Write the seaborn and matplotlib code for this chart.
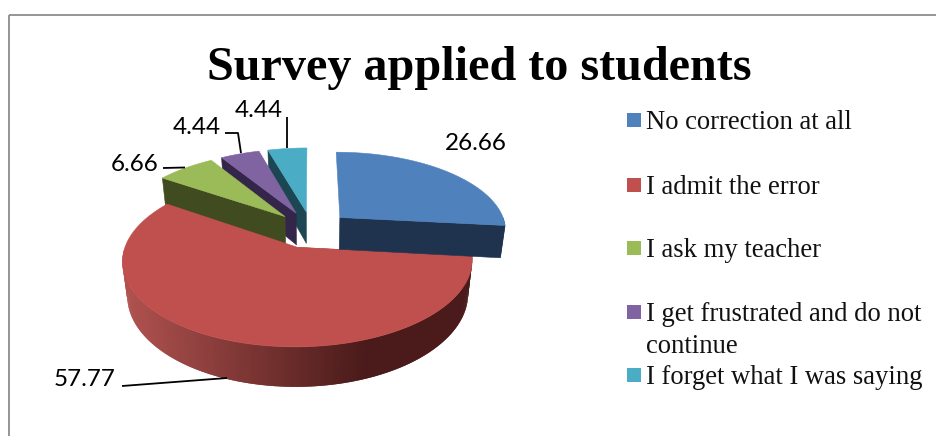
import numpy as np
import matplotlib
matplotlib.use("Agg")
import matplotlib.pyplot as plt
from matplotlib.colors import to_rgb
from matplotlib.patches import Rectangle
import seaborn as sns

categories = ["No correction at all", "I admit the error", "I ask my teacher",
              "I get frustrated and do not\ncontinue", "I forget what I was saying"]
values = [26.66, 57.77, 6.66, 4.44, 4.44]
title = "Survey applied to students"

top_colors = ["#4F81BD", "#C0504D", "#9BBB59", "#8064A2", "#4BACC6"]
side_colors = ["#1F334F", "#A9504E", "#404B20", "#33264A", "#1C4752"]
rim_left, rim_right = "#B0524F", "#4A1B1A"

# Projection of the tilted pie plane onto the canvas (pixels)
CX, CY = 311.5, 229.5
SX, SY = 167.0, 78.5
PERSP, PERSP_Z = 0.151, 0.025
DEPTH = 32.6
EXPLODE = 0.234

# Label anchors, one per slice, and their leader lines
label_xy = [(476, 142), (85, 378), (135, 163), (197, 126), (259, 109)]
leaders = [None,
           [(122, 386), (227, 378)],
           [(163, 168), (185, 167.5)],
           [(225, 133), (238, 133), (241, 153)],
           [(287, 117), (287, 148)]]
legend_y = [120, 185, 248, 312, 375]

sns.set_theme(style="white")
palette = sns.color_palette(top_colors)

fig = plt.figure(figsize=(9.36, 4.36), dpi=100, facecolor="white")
ax = fig.add_axes([0, 0, 1, 1])


def project(u, v, z=0.0):
    u, v = np.asarray(u), np.asarray(v)
    w = 1 + PERSP * v
    return CX + SX * u / (w + PERSP_Z * z), CY + (DEPTH * z - SY * v) / w


def fill(xy_top, xy_bottom, color, lw=0.4):
    xs = np.r_[xy_top[0], xy_bottom[0][::-1]]
    ys = np.r_[xy_top[1], xy_bottom[1][::-1]]
    ax.fill(xs, ys, color=color, lw=lw, zorder=z_order[0])
    z_order[0] += 1


wedges, _ = ax.pie(values, explode=[EXPLODE] * len(values), startangle=90,
                   counterclock=False, radius=1)
geometry = [(w.center, w.theta1, w.theta2) for w in wedges]
for w in wedges:
    w.remove()

ax.set_aspect("auto")
ax.set_xlim(0, 936)
ax.set_ylim(436, 0)
ax.axis("off")

z_order = [2]


def draw_slice(i):
    (cu, cv), t1, t2 = geometry[i]
    # the cut face turned towards the viewer depends on the side of the pie
    mid = np.radians((t1 + t2) / 2)
    t_cut = np.radians(t1 if np.cos(mid) > 0 else t2)
    s = np.linspace(0, 1, 30)
    cut_u = cu + s * np.cos(t_cut)
    cut_v = cv + s * np.sin(t_cut)
    fill(project(cut_u, cut_v, 0), project(cut_u, cut_v, 1), side_colors[i])

    # outer rim, only the part turned towards the viewer
    t = np.radians(np.arange(t1, t2 + 0.5, 1.0))
    t = t[np.sin(t) < 0]
    for a, b in zip(t[:-1], t[1:]):
        # each strip overlaps the next so no seams show between them
        seg = np.linspace(a, min(b + np.radians(1.0), t[-1]), 3)
        su, sv = cu + np.cos(seg), cv + np.sin(seg)
        top = project(su, sv, 0)
        bottom = project(su, sv, 1)
        if i == 1:
            frac = np.clip((top[0].mean() - 125) / (367 - 125), 0, 1)
            col = tuple((1 - frac) * np.array(to_rgb(rim_left)) + frac * np.array(to_rgb(rim_right)))
        else:
            col = side_colors[i]
        fill(top, bottom, col, lw=0)

    # top surface
    arc = np.radians(np.linspace(t1, t2, 200))
    face_u = np.r_[cu, cu + np.cos(arc)]
    face_v = np.r_[cv, cv + np.sin(arc)]
    x, y = project(face_u, face_v)
    ax.fill(x, y, color=palette[i], lw=0.4, zorder=z_order[0])
    z_order[0] += 1


# Painted back to front
for i in [4, 3, 2, 1, 0]:
    draw_slice(i)

label_font = ["Lato", "DejaVu Sans"]
serif_font = ["Liberation Serif", "DejaVu Serif"]

for v, (x, y), line in zip(values, label_xy, leaders):
    ax.text(x, y + 1, f"{v:.2f}", ha="center", va="center", fontsize=17.5,
            family=label_font, color="black", zorder=1000)
    if line:
        lx, ly = zip(*line)
        ax.plot(lx, ly, color="black", lw=1.3, zorder=1000, solid_capstyle="butt")

ax.text(479.5, 68, title, ha="center", va="center", fontsize=34.7,
        fontweight="bold", family=serif_font, color="black", zorder=1000)

for name, color, y in zip(categories, palette, legend_y):
    ax.add_patch(Rectangle((627, y - 7), 14, 14, facecolor=color, edgecolor="none", zorder=1000))
    ax.text(646, y - 10, name, ha="left", va="top", fontsize=19.2, family=serif_font,
            color="#111111", linespacing=1.35, zorder=1000)

# Chart border running off the canvas at the right and bottom
ax.add_patch(Rectangle((9, 15), 1000, 600, facecolor="none", edgecolor="#8C8C8C",
                       lw=1.3, zorder=1))

fig.savefig("out.png", dpi=100, facecolor="white")
